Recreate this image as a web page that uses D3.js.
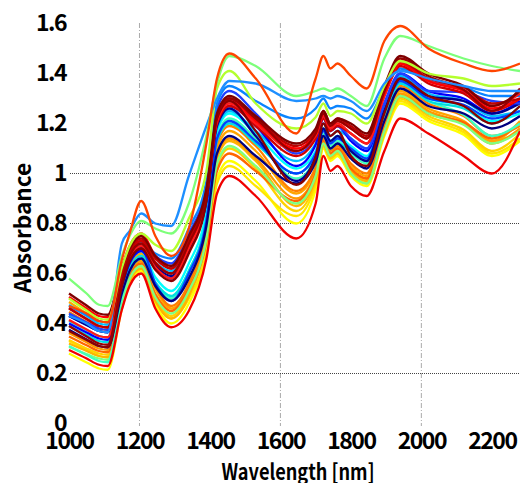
<!DOCTYPE html>
<html><head><meta charset="utf-8">
<script src="https://cdn.jsdelivr.net/npm/d3@7"></script>
<style>
body{margin:0;background:#fff;overflow:hidden}
svg{display:block}
text{font-family:"Noto Sans CJK JP","DejaVu Sans",sans-serif;font-weight:bold;fill:#000}
</style>
</head><body>
<svg id="chart" width="520" height="483"></svg>
<script>
// ---- data ----
const wavelengths = [1000,1050,1085,1110,1150,1172,1205,1245,1290,1340,1390,1420,1455,1530,1645,1700,1722,1742,1762,1800,1845,1895,1940,2020,2120,2200,2280];
const xTicks = [1000,1200,1400,1600,1800,2000,2200];
const yTicks = [0,0.2,0.4,0.6,0.8,1,1.2,1.4,1.6];
const hGrid = [0.2,0.8,1.0];
const vGrid = [1200,1600,2000];

const s26 = [.28,.244,.22,.215,.458,.56,.61,.475,.40,.48,.69,.98,1.05,.97,.80,.935,1.10,1.05,1.07,.99,.95,1.15,1.28,1.21,1.155,1.07,1.13];
const s27 = [.33,.294,.27,.265,.48,.57,.62,.49,.42,.50,.69,.96,1.03,.95,.83,.955,1.11,1.06,1.08,1.01,.97,1.16,1.29,1.22,1.165,1.08,1.14];
const s23 = [.334,.30,.28,.275,.497,.59,.64,.505,.43,.52,.73,1.03,1.10,1.02,.85,.97,1.11,1.06,1.08,1.00,.96,1.16,1.30,1.23,1.175,1.09,1.16];
const s25 = [.32,.29,.27,.265,.48,.57,.62,.49,.42,.51,.74,1.06,1.13,1.05,.87,.98,1.12,1.07,1.09,1.01,.97,1.17,1.31,1.24,1.20,1.13,1.17];
const s21 = [.362,.325,.30,.295,.51,.60,.65,.52,.45,.54,.76,1.07,1.14,1.06,.90,1.00,1.12,1.07,1.09,1.02,.98,1.18,1.32,1.25,1.20,1.12,1.18];
const s19 = [.486,.44,.41,.405,.564,.63,.68,.54,.46,.55,.78,1.10,1.17,1.09,.92,1.015,1.13,1.08,1.10,1.03,.99,1.19,1.33,1.26,1.21,1.13,1.21];
const s24 = [.348,.313,.29,.285,.50,.59,.64,.515,.45,.54,.73,1.01,1.08,1.01,.89,1.00,1.13,1.08,1.10,1.02,.98,1.18,1.31,1.24,1.205,1.14,1.20];
const s18 = [.446,.406,.38,.375,.562,.64,.69,.55,.47,.56,.79,1.12,1.19,1.11,.93,1.025,1.14,1.09,1.11,1.04,1.00,1.21,1.35,1.28,1.23,1.15,1.19];
const s22 = [.306,.278,.26,.255,.484,.58,.63,.505,.44,.53,.74,1.04,1.11,1.03,.88,.99,1.12,1.07,1.09,1.00,.96,1.17,1.31,1.24,1.195,1.12,1.17];
const s16 = [.31,.274,.25,.245,.502,.61,.66,.555,.50,.61,.82,1.15,1.22,1.14,.98,1.06,1.16,1.11,1.13,1.08,1.04,1.23,1.36,1.29,1.235,1.15,1.20];
const s15 = [.41,.374,.35,.345,.553,.64,.69,.585,.53,.64,.85,1.17,1.24,1.16,1.02,1.09,1.18,1.13,1.15,1.11,1.07,1.25,1.37,1.30,1.27,1.21,1.24];
const s31 = [.39,.354,.33,.325,.533,.62,.67,.565,.51,.61,.82,1.13,1.20,1.12,1.00,1.07,1.15,1.10,1.12,1.09,1.05,1.24,1.36,1.29,1.26,1.20,1.27];
const s14 = [.474,.43,.40,.395,.582,.66,.71,.645,.61,.71,.90,1.18,1.25,1.17,1.05,1.12,1.20,1.15,1.17,1.14,1.10,1.27,1.39,1.32,1.29,1.23,1.25];
const s17 = [.43,.394,.37,.365,.566,.65,.70,.56,.49,.60,.81,1.14,1.21,1.13,1.00,1.08,1.17,1.12,1.14,1.10,1.06,1.25,1.37,1.30,1.275,1.22,1.25];
const s20 = [.375,.336,.31,.305,.52,.61,.66,.55,.49,.58,.79,1.08,1.15,1.07,.96,1.045,1.15,1.10,1.12,1.06,1.02,1.21,1.34,1.27,1.24,1.18,1.23];
const s12 = [.40,.364,.34,.335,.55,.64,.69,.62,.58,.69,.89,1.20,1.27,1.19,1.03,1.115,1.22,1.17,1.19,1.13,1.09,1.28,1.40,1.33,1.30,1.24,1.29];
const s13 = [.43,.394,.37,.365,.566,.65,.70,.63,.59,.70,.89,1.19,1.26,1.15,.97,1.065,1.18,1.13,1.15,1.09,1.05,1.25,1.38,1.31,1.29,1.24,1.28];
const s06 = [.44,.404,.38,.375,.59,.68,.73,.67,.64,.76,.95,1.26,1.33,1.24,1.08,1.14,1.22,1.17,1.19,1.14,1.10,1.28,1.40,1.33,1.325,1.29,1.28];
const s05 = [.47,.434,.41,.405,.592,.67,.72,.68,.66,.78,.97,1.28,1.35,1.29,1.22,1.26,1.30,1.26,1.27,1.26,1.22,1.34,1.42,1.37,1.345,1.31,1.31];
const s30 = [.462,.418,.39,.385,.593,.68,.73,.645,.60,.71,.90,1.20,1.27,1.19,1.07,1.14,1.22,1.17,1.19,1.16,1.12,1.31,1.43,1.36,1.32,1.25,1.30];
const s29 = [.414,.376,.35,.345,.567,.66,.71,.625,.58,.70,.90,1.21,1.28,1.20,1.09,1.15,1.23,1.18,1.20,1.16,1.12,1.31,1.44,1.37,1.335,1.27,1.32];
const s10 = [.506,.46,.43,.425,.626,.71,.76,.67,.62,.73,.92,1.22,1.29,1.21,1.10,1.16,1.24,1.19,1.21,1.18,1.14,1.32,1.44,1.37,1.33,1.26,1.30];
const s09 = [.46,.418,.39,.385,.60,.69,.74,.66,.62,.74,.93,1.23,1.30,1.22,1.11,1.17,1.25,1.20,1.22,1.19,1.15,1.33,1.45,1.38,1.345,1.28,1.30];
const s11 = [.37,.334,.31,.305,.548,.65,.70,.615,.57,.68,.89,1.22,1.29,1.17,.955,1.065,1.20,1.15,1.17,1.07,1.03,1.24,1.38,1.31,1.27,1.20,1.27];
const s08 = [.39,.348,.32,.315,.565,.67,.72,.64,.60,.72,.92,1.23,1.30,1.22,1.09,1.16,1.24,1.19,1.21,1.18,1.14,1.33,1.46,1.39,1.335,1.25,1.34];
const s07 = [.52,.472,.44,.435,.622,.70,.75,.67,.63,.75,.94,1.24,1.31,1.23,1.12,1.18,1.25,1.20,1.22,1.20,1.16,1.35,1.47,1.40,1.35,1.27,1.33];
const s28 = [.294,.26,.235,.23,.455,.55,.60,.46,.385,.45,.66,.92,.99,.91,.74,.88,1.07,1.01,1.03,.95,.91,1.09,1.22,1.16,1.07,1.00,1.17];
const s04 = [.50,.452,.42,.415,.623,.71,.76,.715,.69,.82,1.01,1.34,1.41,1.28,1.18,1.225,1.28,1.23,1.25,1.24,1.20,1.35,1.45,1.40,1.38,1.35,1.36];
const s03 = [.43,.40,.37,.365,.72,.77,.84,.80,.79,.99,1.19,1.30,1.37,1.36,1.29,1.30,1.31,1.30,1.31,1.29,1.25,1.36,1.41,1.38,1.35,1.33,1.33];
const s02 = [.58,.52,.475,.47,.67,.75,.81,.78,.76,.88,1.15,1.36,1.47,1.43,1.31,1.33,1.34,1.33,1.34,1.31,1.27,1.46,1.55,1.51,1.46,1.43,1.41];
const s01 = [.47,.44,.41,.405,.655,.76,.89,.75,.67,.78,1.12,1.38,1.48,1.38,1.16,1.38,1.47,1.42,1.44,1.39,1.34,1.53,1.59,1.50,1.44,1.41,1.44];

const seriesValues = [s26,s27,s23,s25,s21,s19,s24,s18,s22,s16,s15,s31,s14,s17,s20,s12,s13,s06,s05,s30,s29,s10,s09,s11,s08,s07,s28,s04,s03,s02,s01];
const seriesColors = ["#ffff00","#ffe600","#ffd200","#ffb300","#ff9900","#ffa500","#ff6600","#ff7f00","#7fff7f","#40ffbf","#00ffff","#00dfdf","#00bfff","#0040ff","#000080","#0000ff","#00008f","#2040ff","#0a84ff","#d00000","#ff1a1a","#ff0000","#bf0000","#8b0000","#990000","#7f0000","#f00000","#b4ff2e","#1e8fff","#7dff7a","#ff4500"];

// ---- chart ----
const svg = d3.select("#chart");
const x = d3.scaleLinear().domain([1000,2280]).range([69,520]);
const y = d3.scaleLinear().domain([0,1.6]).range([423.5,23.5]);

// grid
svg.append("g").selectAll("line").data(vGrid).join("line")
  .attr("x1",d=>x(d)).attr("x2",d=>x(d)).attr("y1",23).attr("y2",426)
  .attr("stroke","#aaa").attr("stroke-width",1).attr("stroke-dasharray","5,2,1,2");
svg.append("g").selectAll("line").data(hGrid).join("line")
  .attr("x1",70).attr("x2",520).attr("y1",d=>y(d)).attr("y2",d=>y(d))
  .attr("stroke","#444").attr("stroke-width",1).attr("stroke-dasharray","1,1");

// lines
const line = d3.line().x((d,i)=>x(wavelengths[i])).y(d=>y(d)).curve(d3.curveMonotoneX);
svg.append("g").attr("fill","none").selectAll("path").data(seriesValues).join("path")
  .attr("d",d=>line(d)).attr("stroke",(d,i)=>seriesColors[i]).attr("stroke-width",2.3)
  .attr("stroke-linejoin","round");

// axes
const fmt = d=> d3.format("~g")(d);
const ya = svg.append("g").attr("transform","translate(69,0)")
  .call(d3.axisLeft(y).tickValues(yTicks).tickFormat(fmt).tickSize(0).tickPadding(3));
const xa = svg.append("g").attr("transform","translate(0,423.5)")
  .call(d3.axisBottom(x).tickValues(xTicks).tickFormat(d=>d).tickSize(0).tickPadding(9));
[ya,xa].forEach(g=>{
  g.select(".domain").remove();
  g.selectAll("text").style("font-size","23px").style("letter-spacing","-1.5px")
   .style("font-family",'"Noto Sans CJK JP",sans-serif').style("font-weight","bold").attr("fill","#000");
});

svg.append("text").attr("transform","translate(31,228) rotate(-90)").attr("text-anchor","middle")
  .attr("textLength",130).attr("lengthAdjust","spacingAndGlyphs")
  .style("font-size","22px").text("Absorbance");
svg.append("text").attr("x",298).attr("y",480).attr("text-anchor","middle")
  .attr("textLength",153).attr("lengthAdjust","spacingAndGlyphs")
  .style("font-size","22px").text("Wavelength [nm]");
</script>
</body></html>
